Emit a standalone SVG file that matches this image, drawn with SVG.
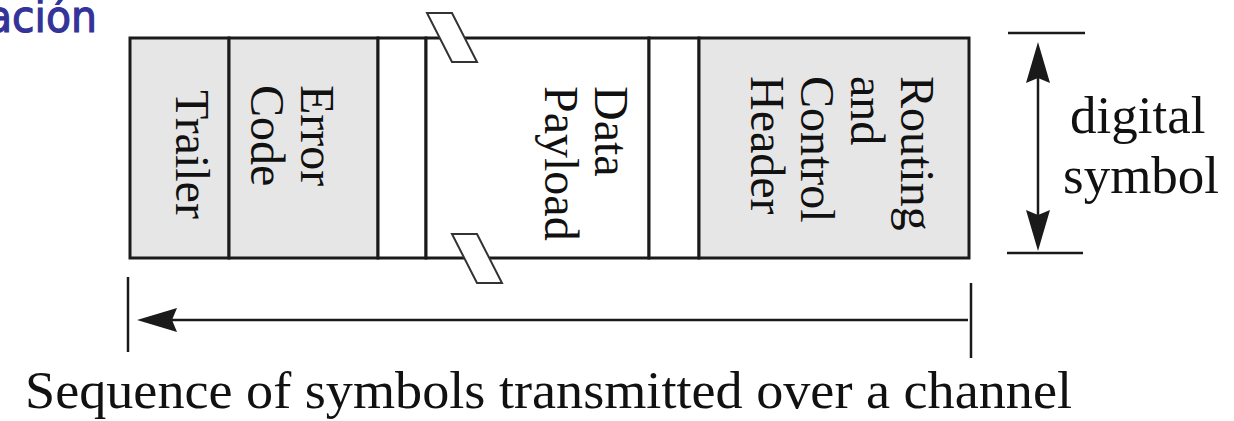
<svg xmlns="http://www.w3.org/2000/svg" width="1234" height="421" viewBox="0 0 1234 421">
  <style>
    .cell { stroke: #1a1a1a; stroke-width: 3; }
    .gray { fill: #e6e6e6; }
    .white { fill: #ffffff; }
    .lbl { font-family: "Liberation Serif", "Times New Roman", serif; font-size: 48px; fill: #111111; }
    .side { font-family: "Liberation Serif", "Times New Roman", serif; font-size: 53px; fill: #111111; }
    .cap { font-family: "Liberation Serif", "Times New Roman", serif; font-size: 52px; fill: #111111; }
    .title { font-family: "DejaVu Sans", "Noto Sans", sans-serif; font-size: 44px; fill: #333399; stroke: #333399; stroke-width: 1.2; }
    .brk { fill: #ffffff; stroke: #333333; stroke-width: 2; stroke-linejoin: miter; }
    .ln { stroke: #1a1a1a; stroke-width: 2.5; fill: none; }
    .head { fill: #1a1a1a; }
  </style>

  <text class="title" x="-13" y="32" textLength="110" lengthAdjust="spacingAndGlyphs">ación</text>

  <g id="trailer">
    <rect class="cell gray" x="130" y="38" width="99" height="220"/>
    <text class="lbl" transform="translate(176,90) rotate(90)">Trailer</text>
  </g>
  <g id="error-code">
    <rect class="cell gray" x="229" y="38" width="149" height="220"/>
    <text class="lbl" transform="translate(301,85) rotate(90)"><tspan x="0" y="0">Error</tspan><tspan x="0" y="50">Code</tspan></text>
  </g>
  <g id="gap-left">
    <rect class="cell white" x="378" y="38" width="48" height="220"/>
  </g>
  <g id="data-payload">
    <rect class="cell white" x="426" y="38" width="223" height="220"/>
    <text class="lbl" transform="translate(595,86) rotate(90)"><tspan x="0" y="0">Data</tspan><tspan x="0" y="50">Payload</tspan></text>
  </g>
  <g id="gap-right">
    <rect class="cell white" x="649" y="38" width="50" height="220"/>
  </g>
  <g id="header">
    <rect class="cell gray" x="699" y="38" width="270" height="220"/>
    <text class="lbl" transform="translate(901,76) rotate(90)"><tspan x="0" y="0">Routing</tspan><tspan x="0" y="50">and</tspan><tspan x="0" y="100">Control</tspan><tspan x="0" y="150">Header</tspan></text>
  </g>

  <g id="breaks">
    <polygon class="brk" points="427,13 452,13 477,62 452,62"/>
    <polygon class="brk" points="452,234 477,234 502,283 477,283"/>
  </g>

  <g id="connectors">
    <line class="ln" x1="1008" y1="33" x2="1085" y2="33"/>
    <line class="ln" x1="1007" y1="253" x2="1083" y2="253"/>
    <line class="ln" x1="1038" y1="70" x2="1038" y2="225"/>
    <path class="head" d="M1038,42 L1050,83 L1038,78 L1026,83 Z"/>
    <path class="head" d="M1038,251 L1050,210 L1038,215 L1026,210 Z"/>
    <line class="ln" x1="128" y1="277" x2="128" y2="352"/>
    <line class="ln" x1="971" y1="283" x2="971" y2="358"/>
    <line class="ln" x1="165" y1="320" x2="968" y2="320"/>
    <path class="head" d="M137,320 L177,308 L172,320 L177,332 Z"/>
  </g>

  <g id="labels">
    <text class="side" x="1070" y="133">digital</text>
    <text class="side" x="1063" y="193">symbol</text>
    <text class="cap" x="25" y="408" textLength="1047" lengthAdjust="spacingAndGlyphs">Sequence of symbols transmitted over a channel</text>
  </g>
</svg>
